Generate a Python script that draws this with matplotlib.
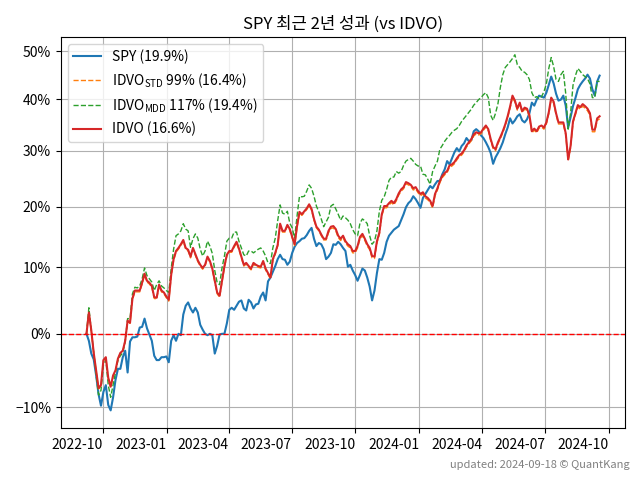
import matplotlib
matplotlib.use('Agg')
import matplotlib.pyplot as plt
import matplotlib.dates as mdates
from matplotlib.ticker import FixedLocator, FixedFormatter, NullLocator
import numpy as np
import pandas as pd

plt.rcParams['font.family'] = ['Noto Sans CJK KR', 'DejaVu Sans']

# cumulative returns (%), sampled every ~3.5 days from 2022-09-07 to 2024-09-18
start, end = '2022-09-07', '2024-09-18'

spy = [0.0, -1.0, -2.8, -3.6, -5.8, -8.3, -9.8, -8.0, -7.1, -9.7,
       -10.4, -8.7, -6.4, -4.9, -4.9, -3.3, -2.4, -5.4, -1.1, -0.5,
       -0.5, -0.4, 0.9, 1.0, 2.2, 0.8, -0.1, -1.0, -3.1, -3.7,
       -3.7, -3.3, -3.3, -3.2, -4.0, -1.0, -0.2, -1.0, 0.0, -0.2,
       2.8, 4.1, 4.6, 3.7, 3.1, 3.8, 3.1, 1.3, 0.6, 0.0,
       -0.2, 0.0, -0.2, -2.8, -1.7, -0.1, 0.0, 0.0, 1.5, 3.5,
       3.8, 3.5, 4.1, 4.7, 4.9, 3.7, 3.4, 5.0, 4.6, 3.7,
       4.3, 4.4, 5.5, 6.1, 4.9, 7.8, 8.4, 9.3, 10.2, 11.3,
       12.0, 11.3, 11.2, 10.4, 10.9, 12.3, 13.3, 13.9, 14.2, 14.6,
       14.7, 15.2, 15.9, 16.4, 14.6, 13.4, 13.9, 13.7, 12.9, 11.3,
       11.7, 12.3, 13.7, 13.6, 14.1, 13.7, 13.1, 12.6, 10.1, 10.4,
       9.5, 8.8, 7.9, 8.8, 9.8, 9.5, 8.4, 7.0, 4.9, 6.4,
       9.1, 11.3, 11.2, 12.3, 14.1, 15.1, 15.6, 16.1, 16.4, 16.7,
       17.7, 18.7, 19.9, 20.6, 21.0, 21.8, 21.3, 20.6, 19.8, 21.5,
       22.2, 22.9, 23.6, 23.2, 23.9, 24.5, 24.5, 25.7, 26.6, 28.1,
       27.5, 28.6, 29.7, 30.5, 29.9, 30.9, 31.4, 32.4, 31.8, 32.0,
       33.7, 34.1, 33.7, 32.9, 32.4, 31.6, 30.7, 29.6, 27.6, 28.8,
       29.6, 30.5, 31.6, 33.1, 34.4, 36.2, 35.2, 35.8, 36.6, 37.0,
       35.8, 35.4, 36.0, 37.2, 39.3, 38.7, 39.9, 40.7, 40.5, 40.3,
       41.3, 42.9, 44.6, 43.2, 41.1, 39.7, 39.9, 40.7, 38.7, 34.4,
       36.4, 38.6, 40.2, 42.0, 42.9, 43.6, 44.2, 45.0, 44.2, 42.0,
       40.7, 43.6, 44.8]

idvo_std = [0.0, 3.0, 0.4, -2.8, -5.2, -7.6, -7.2, -3.8, -3.4, -6.2,
            -7.4, -5.9, -5.2, -3.6, -2.8, -2.5, -1.1, 1.8, 1.5, 5.0,
            6.2, 6.2, 6.2, 7.4, 8.8, 7.7, 7.4, 6.9, 5.2, 5.1,
            7.1, 6.2, 5.9, 5.3, 4.8, 8.6, 11.1, 12.4, 12.9, 13.5,
            14.2, 12.9, 12.6, 11.5, 12.9, 11.9, 10.9, 10.2, 9.7, 10.2,
            11.5, 10.8, 9.6, 7.7, 5.9, 5.4, 7.7, 10.0, 11.8, 12.4,
            12.4, 13.2, 13.9, 12.8, 11.5, 10.2, 10.5, 10.0, 9.6, 10.5,
            10.2, 10.0, 9.9, 10.8, 9.6, 8.9, 8.2, 11.1, 12.1, 13.4,
            16.9, 15.7, 15.7, 16.7, 16.0, 14.7, 13.5, 16.5, 18.9, 18.5,
            19.0, 19.5, 20.2, 19.4, 17.7, 16.4, 15.9, 15.1, 14.4, 14.4,
            15.6, 16.3, 16.4, 15.9, 14.8, 14.3, 14.8, 13.9, 13.4, 13.1,
            12.3, 12.3, 13.1, 14.6, 15.1, 14.3, 13.4, 12.8, 11.5, 11.4,
            13.9, 15.3, 18.4, 19.8, 19.8, 20.3, 20.7, 20.3, 21.0, 22.0,
            22.7, 23.1, 24.0, 23.8, 23.5, 22.9, 23.1, 22.4, 21.9, 22.2,
            21.5, 21.2, 20.7, 19.8, 21.9, 22.9, 24.2, 25.1, 25.6, 26.0,
            27.0, 27.2, 27.6, 28.3, 28.9, 29.2, 29.8, 30.7, 31.3, 31.9,
            32.8, 33.2, 33.0, 33.2, 33.9, 34.5, 33.8, 31.9, 30.4, 30.0,
            31.3, 32.3, 33.4, 34.7, 36.3, 38.2, 40.4, 39.4, 37.8, 39.0,
            37.3, 38.0, 37.8, 36.5, 33.4, 33.9, 33.4, 34.3, 34.5, 34.1,
            35.1, 37.1, 40.0, 39.2, 36.9, 35.1, 35.1, 35.1, 33.0, 28.1,
            30.6, 35.3, 36.9, 38.4, 38.0, 38.6, 38.2, 37.7, 36.8, 33.6,
            33.6, 35.8, 36.1]

idvo_mdd = [0.0, 3.8, 0.5, -2.7, -5.8, -8.4, -7.8, -4.4, -3.7, -7.1,
            -8.7, -7.1, -5.4, -3.7, -3.1, -2.7, -1.0, 2.2, 2.2, 5.9,
            6.9, 6.8, 7.1, 8.2, 9.9, 8.7, 8.2, 7.7, 6.4, 7.3,
            7.9, 7.1, 6.8, 6.4, 6.1, 9.8, 12.9, 15.1, 15.4, 15.9,
            17.1, 16.2, 15.9, 13.2, 14.6, 15.4, 14.7, 12.9, 11.8, 12.6,
            14.2, 13.4, 12.2, 9.5, 7.6, 7.3, 9.9, 11.8, 14.2, 14.7,
            14.7, 15.7, 15.7, 14.2, 13.1, 12.0, 11.8, 12.6, 12.6, 12.3,
            12.6, 12.9, 13.1, 12.6, 11.8, 10.7, 10.6, 13.1, 14.7, 17.6,
            20.3, 18.9, 18.7, 19.2, 17.2, 16.4, 14.7, 18.4, 21.8, 21.7,
            21.8, 22.7, 23.8, 23.2, 21.8, 20.1, 19.1, 17.9, 16.6, 17.4,
            18.2, 20.1, 20.4, 19.6, 18.7, 17.7, 18.4, 18.1, 17.7, 17.1,
            16.1, 15.4, 15.1, 17.2, 17.9, 17.6, 17.1, 15.1, 13.7, 14.2,
            15.9, 19.2, 21.1, 21.7, 23.0, 24.6, 25.2, 25.2, 26.2, 25.9,
            26.2, 27.3, 28.1, 28.4, 28.6, 28.1, 27.5, 27.2, 27.2, 25.7,
            25.6, 24.8, 23.9, 26.2, 27.2, 28.1, 30.3, 31.0, 31.8, 32.4,
            32.9, 33.5, 33.9, 34.2, 34.8, 35.6, 36.2, 36.8, 37.4, 38.0,
            38.8, 39.3, 39.9, 40.3, 40.9, 41.3, 40.3, 36.8, 35.8, 37.2,
            39.1, 42.4, 45.0, 46.5, 47.1, 47.7, 48.4, 49.2, 47.1, 46.5,
            45.7, 45.5, 45.0, 44.0, 41.3, 40.3, 40.5, 40.1, 40.5, 41.5,
            43.1, 46.3, 48.6, 46.7, 44.0, 43.6, 45.0, 45.7, 41.1, 34.1,
            37.2, 42.8, 44.8, 46.3, 45.7, 45.0, 44.6, 44.2, 43.1, 40.3,
            40.3, 43.6, 43.6]

idvo = [0.0, 3.1, 0.5, -2.7, -5.1, -7.5, -7.1, -3.7, -3.3, -6.1,
        -7.3, -5.8, -5.1, -3.5, -2.7, -2.4, -1.0, 1.9, 1.6, 5.2,
        6.4, 6.4, 6.4, 7.6, 9.0, 7.9, 7.6, 7.1, 5.4, 5.3,
        7.3, 6.4, 6.1, 5.5, 5.0, 8.8, 11.3, 12.6, 13.1, 13.7,
        14.4, 13.1, 12.8, 11.7, 13.1, 12.1, 11.1, 10.4, 9.9, 10.4,
        11.7, 11.0, 9.8, 7.9, 6.1, 5.6, 7.9, 10.2, 12.0, 12.6,
        12.6, 13.4, 14.1, 13.0, 11.7, 10.4, 10.7, 10.2, 9.8, 10.7,
        10.4, 10.2, 10.1, 11.0, 9.8, 9.1, 8.4, 11.3, 12.3, 13.6,
        17.1, 15.9, 15.9, 16.9, 16.2, 14.9, 13.7, 16.7, 19.1, 18.7,
        19.2, 19.7, 20.4, 19.6, 17.9, 16.6, 16.1, 15.3, 14.6, 14.6,
        15.9, 16.6, 16.7, 16.2, 15.1, 14.6, 15.1, 14.2, 13.7, 13.4,
        12.6, 12.6, 13.4, 14.9, 15.4, 14.6, 13.7, 13.1, 11.8, 11.7,
        14.2, 15.6, 18.7, 20.1, 20.1, 20.6, 21.0, 20.6, 21.3, 22.3,
        23.0, 23.4, 24.3, 24.1, 23.8, 23.2, 23.4, 22.7, 22.2, 22.5,
        21.8, 21.5, 21.0, 20.1, 22.2, 23.2, 24.5, 25.4, 25.9, 26.3,
        27.3, 27.5, 27.9, 28.6, 29.2, 29.5, 30.1, 31.0, 31.6, 32.2,
        33.1, 33.5, 33.3, 33.5, 34.2, 34.8, 34.1, 32.2, 30.7, 30.3,
        31.6, 32.6, 33.7, 35.0, 36.6, 38.5, 40.7, 39.7, 38.1, 39.3,
        37.6, 38.3, 38.1, 36.8, 33.7, 34.2, 33.7, 34.6, 34.8, 34.4,
        35.4, 37.4, 40.3, 39.5, 37.2, 35.4, 35.4, 35.4, 33.3, 28.4,
        30.9, 35.6, 37.2, 38.8, 38.4, 39.0, 38.6, 38.1, 37.2, 34.0,
        34.0, 36.2, 36.6]

ytick_vals = [-10, 0, 10, 20, 30, 40, 50]
ytick_labels = ['\u221210%', '0%', '10%', '20%', '30%', '40%', '50%']

dates = pd.date_range(start, end, periods=len(spy))


def growth(r):
    return 1 + np.array(r) / 100.0


fig, ax = plt.subplots(figsize=(6.4, 4.8), dpi=100)

ax.plot(dates, growth(spy), '-', color='C0', linewidth=1.5, label='SPY (19.9%)')
ax.plot(dates, growth(idvo_std), '--', color='C1', linewidth=1,
        label=r'IDVO$_\mathregular{STD}$ 99% (16.4%)')
ax.plot(dates, growth(idvo_mdd), '--', color='C2', linewidth=1,
        label=r'IDVO$_\mathregular{MDD}$ 117% (19.4%)')
ax.plot(dates, growth(idvo), '-', color='C3', linewidth=1.5, label='IDVO (16.6%)')
ax.axhline(1.0, color='red', linestyle='--', linewidth=1)

ax.set_yscale('log')
ax.yaxis.set_major_locator(FixedLocator(growth(ytick_vals)))
ax.yaxis.set_major_formatter(FixedFormatter(ytick_labels))
ax.yaxis.set_minor_locator(NullLocator())

ax.xaxis.set_major_locator(mdates.MonthLocator(bymonth=[1, 4, 7, 10]))
ax.xaxis.set_major_formatter(mdates.DateFormatter('%Y-%m'))
plt.setp(ax.get_xticklabels(), rotation=0, ha='right')

ax.grid(True)
ax.set_title('SPY 최근 2년 성과 (vs IDVO)')
ax.legend(loc='upper left')

fig.text(0.984, 0.032, 'updated: 2024-09-18 © QuantKang', ha='right', va='center',
         fontsize=8, color='gray')

fig.subplots_adjust(left=0.095, right=0.977, top=0.923, bottom=0.108)
plt.savefig('out.png', dpi=100)
plt.close()
